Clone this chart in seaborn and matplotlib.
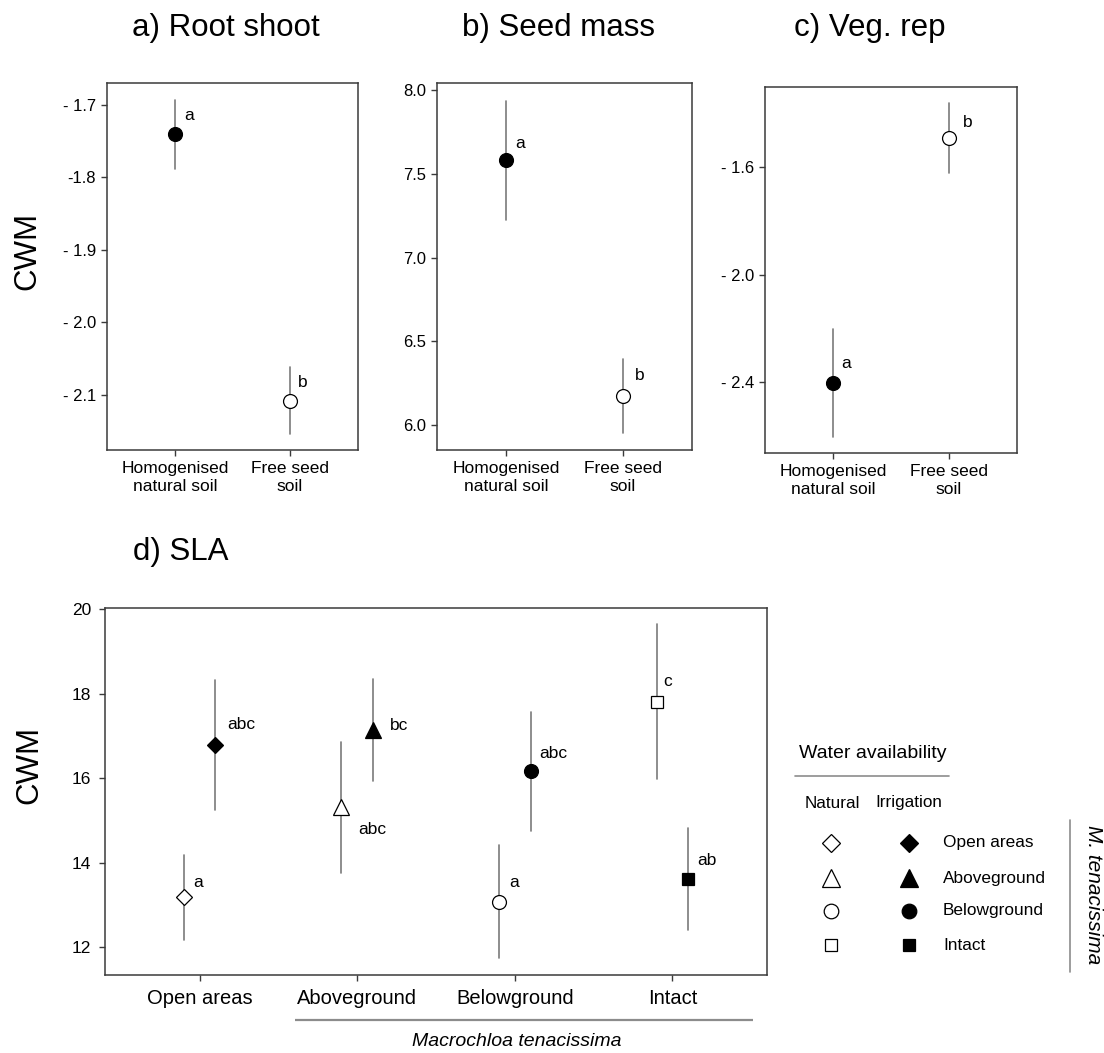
import numpy as np
import pandas as pd
import matplotlib
matplotlib.use("Agg")
import matplotlib.pyplot as plt
import seaborn as sns

# ---- data -------------------------------------------------------------
soil_levels = ["Homogenised\nnatural soil", "Free seed\nsoil"]

root_mean = [-1.741, -2.108]
root_err = [0.047, 0.046]
root_letters = ["a", "b"]
root_ticks = [-1.7, -1.8, -1.9, -2.0, -2.1]
root_ticklabels = ["- 1.7", "-1.8", "- 1.9", "- 2.0", "- 2.1"]

seed_mean = [7.582, 6.173]
seed_err = [0.355, 0.221]
seed_letters = ["a", "b"]
seed_ticks = [8.0, 7.5, 7.0, 6.5, 6.0]
seed_ticklabels = ["8.0", "7.5", "7.0", "6.5", "6.0"]

veg_mean = [-2.404, -1.492]
veg_err = [0.200, 0.130]
veg_letters = ["a", "b"]
veg_ticks = [-1.6, -2.0, -2.4]
veg_ticklabels = ["- 1.6", "- 2.0", "- 2.4"]

sites = ["Open areas", "Aboveground", "Belowground", "Intact"]
site_markers = ["D", "^", "o", "s"]
water_levels = ["Natural", "Irrigation"]
sla_natural = [13.18, 15.31, 13.08, 17.81]
sla_natural_err = [1.01, 1.54, 1.34, 1.83]
sla_irrigation = [16.78, 17.14, 16.17, 13.62]
sla_irrigation_err = [1.54, 1.21, 1.41, 1.21]
sla_natural_letters = ["a", "abc", "a", "c"]
sla_irrigation_letters = ["abc", "bc", "abc", "ab"]
sla_ticks = [12, 14, 16, 18, 20]

# ---- style ------------------------------------------------------------
sns.set_style("ticks")
plt.rcParams["font.family"] = ["Liberation Sans", "DejaVu Sans"]
plt.rcParams["axes.linewidth"] = 1.1
for key in ("text.color", "axes.labelcolor", "xtick.labelcolor", "ytick.labelcolor"):
    plt.rcParams[key] = "black"

W, H = 1104, 1053
DPI = 100
PT = 72.0 / DPI           # points per pixel
ERR_COLOR = "#7a7a7a"
SPINE_COLOR = "#3a3a3a"
RULE_COLOR = "#8c8c8c"

fig = plt.figure(figsize=(W / DPI, H / DPI), dpi=DPI)


def px_axes(left, top, right, bottom):
    return fig.add_axes([left / W, 1 - bottom / H, (right - left) / W, (bottom - top) / H])


def interval_frame(keys, means, errs, key_name, extra=None):
    """Long table holding lower bound, mean and upper bound per group;
    the median gives the mean and the full range gives the error bar."""
    rows = []
    for k, m, e in zip(keys, means, errs):
        for v in (m - e, m, m + e):
            row = {key_name: k, "CWM": v}
            if extra:
                row.update(extra)
            rows.append(row)
    return pd.DataFrame(rows)


def style_axes(ax, xsize, ysize, ypad):
    for sp in ax.spines.values():
        sp.set_visible(True)
        sp.set_color(SPINE_COLOR)
        sp.set_linewidth(1.1)
    ax.tick_params(axis="both", direction="out", length=4, width=1.0,
                   color=SPINE_COLOR, labelcolor="black", top=False, right=False)
    ax.tick_params(axis="x", labelsize=xsize, pad=4)
    ax.tick_params(axis="y", labelsize=ysize, pad=ypad)
    ax.set_xlabel("")
    ax.set_ylabel("")
    ax.grid(False)


def soil_panel(ax, means, errs, letters, ticks, ticklabels, ylim, offsets):
    df = interval_frame(soil_levels, means, errs, "soil")
    sns.pointplot(data=df, x="soil", y="CWM", hue="soil",
                  order=soil_levels, hue_order=soil_levels,
                  palette=dict(zip(soil_levels, ["black", "white"])),
                  estimator="median", errorbar=("pi", 100),
                  markers="o", linestyle="none", markersize=10,
                  markeredgecolor="black", markeredgewidth=0.9,
                  err_kws={"color": ERR_COLOR, "linewidth": 1.2, "zorder": 2},
                  zorder=3, legend=False, ax=ax)
    for i, (m, lab, (dx, dy)) in enumerate(zip(means, letters, offsets)):
        ax.annotate(lab, (i, m), xytext=(dx * PT, -dy * PT), textcoords="offset points",
                    ha="left", va="center", fontsize=12.5, color="black")
    ax.set_xlim(-0.595, 1.595)
    ax.set_ylim(*ylim)
    ax.set_yticks(ticks)
    ax.set_yticklabels(ticklabels)
    style_axes(ax, 12.5, 12, 4)


# ---- panels a-c -------------------------------------------------------
ax_a = px_axes(107, 83, 358, 450)
soil_panel(ax_a, root_mean, root_err, root_letters, root_ticks, root_ticklabels,
           (-2.176, -1.670), [(9, -19), (8.5, -18)])

ax_b = px_axes(437, 83, 692, 450)
soil_panel(ax_b, seed_mean, seed_err, seed_letters, seed_ticks, seed_ticklabels,
           (5.851, 8.042), [(9, -17), (12, -21)])

ax_c = px_axes(765, 87, 1017, 453)
soil_panel(ax_c, veg_mean, veg_err, veg_letters, veg_ticks, veg_ticklabels,
           (-2.664, -1.302), [(8, -20), (14, -16)])

# ---- panel d ----------------------------------------------------------
ax_d = px_axes(105, 608, 767, 975)
sla = pd.concat([
    interval_frame(sites, sla_natural, sla_natural_err, "site", {"water": "Natural"}),
    interval_frame(sites, sla_irrigation, sla_irrigation_err, "site", {"water": "Irrigation"}),
], ignore_index=True)

DODGE = 0.2
plot_sizes = {"D": 8.5, "^": 12, "o": 10, "s": 9}
for site, mk in zip(sites, site_markers):
    sns.pointplot(data=sla[sla["site"] == site], x="site", y="CWM", hue="water",
                  order=sites, hue_order=water_levels,
                  palette={"Natural": "white", "Irrigation": "black"},
                  estimator="median", errorbar=("pi", 100), dodge=DODGE,
                  markers=mk, linestyle="none", markersize=plot_sizes[mk],
                  markeredgecolor="black", markeredgewidth=0.9,
                  err_kws={"color": ERR_COLOR, "linewidth": 1.2, "zorder": 2},
                  zorder=3, legend=False, ax=ax_d)

nat_offsets = [(9, -15), (17, 22), (10, -19), (7, -20)]
irr_offsets = [(11.5, -21), (17, -5), (9, -18), (9.5, -18)]
for i in range(len(sites)):
    for m, lab, (dx, dy), shift in (
        (sla_natural[i], sla_natural_letters[i], nat_offsets[i], -DODGE / 2),
        (sla_irrigation[i], sla_irrigation_letters[i], irr_offsets[i], DODGE / 2),
    ):
        ax_d.annotate(lab, (i + shift, m), xytext=(dx * PT, -dy * PT),
                      textcoords="offset points", ha="left", va="center",
                      fontsize=12.5, color="black")

ax_d.set_xlim(-0.6, 3.6)
ax_d.set_ylim(11.345, 20.03)
ax_d.set_yticks(sla_ticks)
style_axes(ax_d, 14.5, 12.5, 6)
ax_d.tick_params(axis="x", pad=6)

# ---- titles, axis labels and legend (figure pixel coordinates) --------
ov = fig.add_axes([0, 0, 1, 1], zorder=10)
ov.set_xlim(0, W)
ov.set_ylim(H, 0)
ov.axis("off")

title_kw = dict(fontsize=22.5, va="center", color="black")
ov.text(226, 28, "a) Root shoot", ha="center", **title_kw)
ov.text(558, 28, "b) Seed mass", ha="center", **title_kw)
ov.text(870, 28, "c) Veg. rep", ha="center", **title_kw)
ov.text(133, 552, "d) SLA", ha="left", **title_kw)

ov.text(27, 251, "CWM", rotation=90, ha="center", va="center", fontsize=22.5)
ov.text(29, 765, "CWM", rotation=90, ha="center", va="center", fontsize=22.5)

# group bracket under panel d
ov.plot([295, 753], [1020, 1020], color=RULE_COLOR, lw=1.6, solid_capstyle="butt")
ov.text(517, 1041, "Macrochloa tenacissima", style="italic", ha="center",
        va="center", fontsize=14)

# legend
ov.text(799, 753, "Water availability", ha="left", va="center", fontsize=14)
ov.plot([795, 949], [776, 776], color=RULE_COLOR, lw=1.2)
ov.text(805, 803, "Natural", ha="left", va="center", fontsize=12.3)
ov.text(875, 803, "Irrigation", ha="left", va="center", fontsize=12.3)
row_y = [843, 878, 911, 945]
legend_sizes = {"D": 9, "^": 13, "o": 10.5, "s": 9}
for site, mk, y in zip(sites, site_markers, row_y):
    ov.plot([831], [y], marker=mk, markersize=legend_sizes[mk], mfc="white",
            mec="black", mew=0.9, linestyle="none")
    ov.plot([909], [y], marker=mk, markersize=legend_sizes[mk], mfc="black",
            mec="black", mew=0.9, linestyle="none")
    ov.text(943, y, site, ha="left", va="center", fontsize=12.4)
ov.plot([1070, 1070], [820, 972], color=RULE_COLOR, lw=1.2)
ov.text(1093, 895, "M. tenacissima", rotation=270, style="italic",
        ha="center", va="center", fontsize=15)

fig.savefig("out.png", dpi=DPI)
